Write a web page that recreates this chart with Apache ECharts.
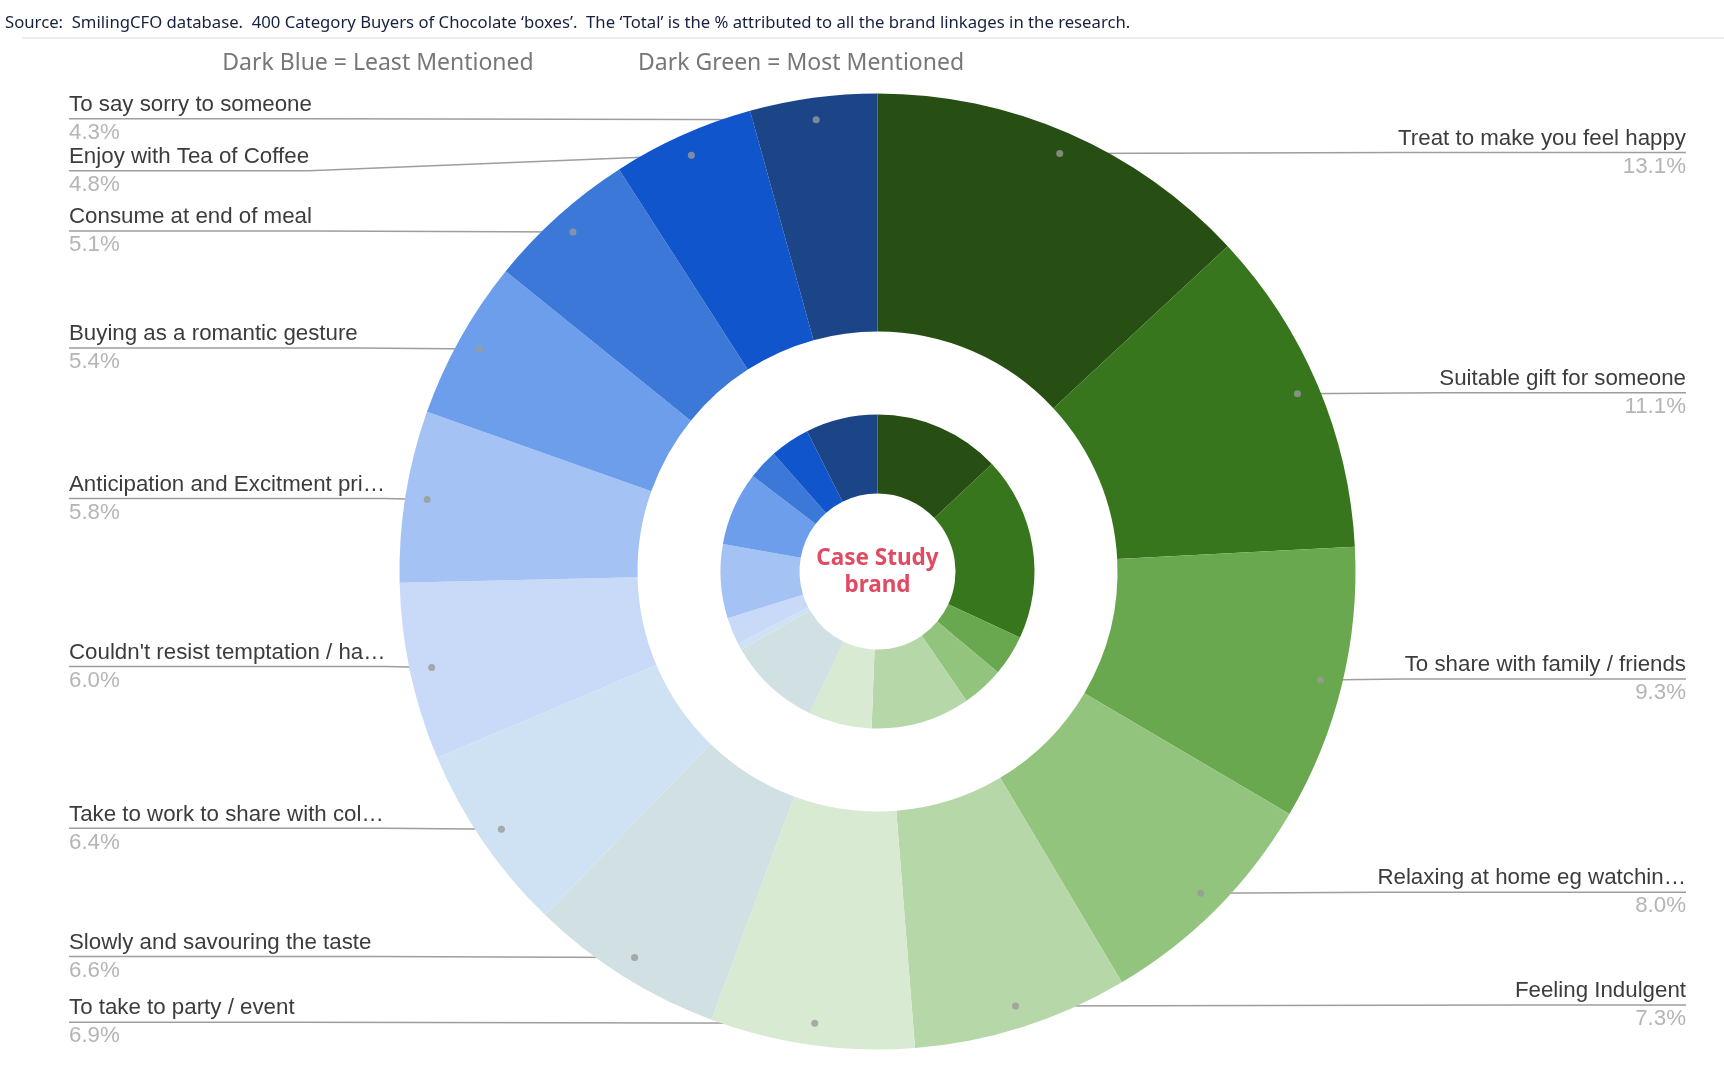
<!DOCTYPE html>
<html><head><meta charset="utf-8">
<script src="https://cdn.jsdelivr.net/npm/echarts@6/dist/echarts.min.js"></script>
<style>html,body{margin:0;padding:0;background:#fff}#c{width:1724px;height:1074px}</style>
</head><body><div id="c"></div>
<script>
// ---- data ----
const categories = [
  'Treat to make you feel happy',
  'Suitable gift for someone',
  'To share with family / friends',
  'Relaxing at home eg watchin…',
  'Feeling Indulgent',
  'To take to party / event',
  'Slowly and savouring the taste',
  'Take to work to share with col…',
  "Couldn't resist temptation / ha…",
  'Anticipation and Excitment pri…',
  'Buying as a romantic gesture',
  'Consume at end of meal',
  'Enjoy with Tea of Coffee',
  'To say sorry to someone'
];
const totalShare = [13.1, 11.1, 9.3, 8.0, 7.3, 6.9, 6.6, 6.4, 6.0, 5.8, 5.4, 5.1, 4.8, 4.3];
const brandShare = [13.0, 18.9, 4.2, 4.3, 10.2, 6.5, 9.6, 0.7, 2.8, 7.6, 7.6, 3.1, 4.1, 7.4];
const colors = ['#274e13','#38761d','#6aa84f','#93c47d','#b6d7a8','#d9ead3','#d0e0e3',
                '#cfe2f3','#c9daf8','#a4c2f4','#6d9eeb','#3c78d8','#1155cc','#1c4587'];

// ---- layout ----
const CX = 877.5, CY = 571.5;
const R = 478, R0 = 240, RI = 157, RI0 = 78, DOT_R = 456;

const total = totalShare.reduce((a, b) => a + b, 0);
let acc = 0;
const dotData = totalShare.map(v => { const m = acc + v / 2; acc += v; return [DOT_R, m]; });

const chart = echarts.init(document.getElementById('c'));
const option = {
  animation: false,
  title: [
    { text: "Source:  SmilingCFO database.  400 Category Buyers of Chocolate ‘boxes’.  The ‘Total’ is the % attributed to all the brand linkages in the research.",
      left: 5, top: 13, padding: 0,
      textStyle: { fontFamily: 'Noto Sans', fontSize: 16.7, fontWeight: 'normal', color: '#16213e', lineHeight: 20 } },
    { text: 'Dark Blue = Least Mentioned', left: 378, top: 50, textAlign: 'center', padding: 0,
      textStyle: { fontFamily: 'Noto Sans', fontSize: 23, fontWeight: 'normal', color: '#777777', lineHeight: 26 } },
    { text: 'Dark Green = Most Mentioned', left: 801, top: 50, textAlign: 'center', padding: 0,
      textStyle: { fontFamily: 'Noto Sans', fontSize: 23, fontWeight: 'normal', color: '#777777', lineHeight: 26 } },
    { text: 'Case Study\nbrand', left: CX, top: 545.5, textAlign: 'center', padding: 0,
      textStyle: { fontFamily: 'Noto Sans', fontSize: 22.5, fontWeight: 'bold', color: '#e04a62', lineHeight: 27 } }
  ],
  graphic: [
    { type: 'line', shape: { x1: 22, y1: 38, x2: 1724, y2: 38 }, style: { stroke: '#e8e8e8', lineWidth: 1.5 }, silent: true }
  ],
  polar: { center: [CX, CY], radius: R },
  angleAxis: { type: 'value', min: 0, max: total, startAngle: 90, clockwise: true, show: false },
  radiusAxis: { type: 'value', min: 0, max: R, show: false },
  series: [
    {
      type: 'pie', name: 'Total',
      left: 0, top: 0, width: 1755, height: 1074,
      center: [CX, CY], radius: [R0, R],
      startAngle: 90, clockwise: true, silent: true,
      avoidLabelOverlap: true,
      itemStyle: { borderWidth: 0 },
      emphasis: { disabled: true },
      label: {
        show: true, position: 'outside', alignTo: 'edge', edgeDistance: 69,
        distanceToLabelLine: 0, height: 50,
        formatter: p => '{n|' + p.name + '}\n{v|' + p.value.toFixed(1) + '%}',
        rich: {
          n: { fontFamily: 'Liberation Sans', fontSize: 22.3, lineHeight: 20, color: '#3c3c3c' },
          v: { fontFamily: 'Liberation Sans', fontSize: 22.3, lineHeight: 36, color: '#b5b5b5' }
        }
      },
      labelLine: {
        show: true, length: DOT_R - R, length2: 0, smooth: false,
        minTurnAngle: 0, maxSurfaceAngle: 180,
        lineStyle: { color: '#9e9e9e', width: 1.5 }
      },
      labelLayout: function (params) {
        const r = params.labelRect, pts = params.labelLinePoints;
        if (!pts) return {};
        const isLeft = r.x + r.width / 2 < CX;
        const k = DOT_R / R;
        const dot = [CX + (pts[0][0] - CX) * k, CY + (pts[0][1] - CY) * k];
        const y = r.y + r.height / 2;
        const inner = isLeft ? r.x + r.width : r.x;
        const outer = isLeft ? r.x : r.x + r.width;
        return { labelLinePoints: [dot, [inner, y], [outer, y]] };
      },
      data: categories.map((n, i) => ({ name: n, value: totalShare[i], itemStyle: { color: colors[i] } }))
    },
    {
      type: 'pie', name: 'Case Study brand',
      center: [CX, CY], radius: [RI0, RI],
      startAngle: 90, clockwise: true, silent: true,
      itemStyle: { borderWidth: 0 },
      emphasis: { disabled: true },
      label: { show: false }, labelLine: { show: false },
      data: categories.map((n, i) => ({ name: n, value: brandShare[i], itemStyle: { color: colors[i] } }))
    },
    {
      type: 'scatter', coordinateSystem: 'polar', silent: true, z: 10,
      symbol: 'circle', symbolSize: 7,
      itemStyle: { color: '#9a9a9a' },
      data: dotData
    }
  ]
};
chart.setOption(option);
</script></body></html>
